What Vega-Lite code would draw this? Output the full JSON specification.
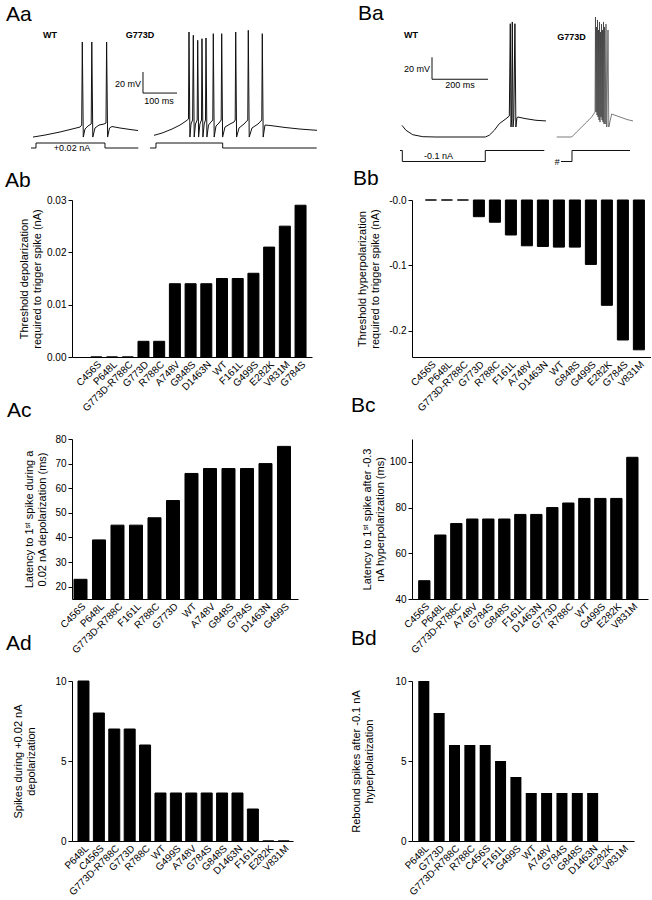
{
"$schema": "https://vega.github.io/schema/vega-lite/v6.json",
"padding": {"left": 5, "top": 3, "right": 0, "bottom": 5},
"bounds": "flush",
"columns": 2,
"spacing": {"row": 82, "column": 100},
"config": {
  "view": {"stroke": null},
  "font": "Liberation Sans",
  "title": {"anchor": "start", "frame": "group", "fontSize": 21, "fontWeight": "normal", "font": "Liberation Sans", "color": "#000", "baseline": "alphabetic"},
  "axis": {"labelFont": "Liberation Sans", "titleFont": "Liberation Sans", "labelFontSize": 10, "titleFontSize": 11, "titleFontWeight": "normal", "labelColor": "#000", "titleColor": "#000", "domainColor": "#000", "tickColor": "#000", "grid": false, "tickSize": 4, "titleLineHeight": 13},
  "text": {"font": "Liberation Sans", "color": "#000"}
},
"datasets": {
  "aa_wt_mV": [{"t":5.9,"mV":-69.8},{"t":41.2,"mV":-67.9},{"t":85.3,"mV":-65},{"t":120.6,"mV":-62.2},{"t":144.1,"mV":-60.3},{"t":149.1,"mV":-58.4},{"t":150.9,"mV":20.5},{"t":153.8,"mV":-69.8},{"t":158.8,"mV":-62.2},{"t":167.6,"mV":-59.3},{"t":177.1,"mV":-57.4},{"t":178.8,"mV":20.5},{"t":181.8,"mV":-69.8},{"t":188.2,"mV":-61.2},{"t":200,"mV":-58.4},{"t":214.7,"mV":-57.4},{"t":220.6,"mV":-56.5},{"t":222.4,"mV":20.5},{"t":225.3,"mV":-69.8},{"t":230.9,"mV":-61.2},{"t":238.2,"mV":-59.8},{"t":261.8,"mV":-61.2},{"t":291.2,"mV":-62.6},{"t":314.7,"mV":-63.6}],
  "aa_wt_nA": [{"t":0,"nA":0},{"t":14.7,"nA":0},{"t":14.7,"nA":0.02},{"t":217.6,"nA":0.02},{"t":217.6,"nA":0},{"t":315.6,"nA":0}],
  "aa_g_mV": [{"t":11.8,"mV":-68.2},{"t":35.3,"mV":-66},{"t":64.7,"mV":-62.2},{"t":88.2,"mV":-58.4},{"t":105.9,"mV":-54.6},{"t":113.2,"mV":-52.7},
    {"t":114.7,"mV":30},{"t":117.4,"mV":-69.8},{"t":120.6,"mV":-57.4},{"t":125.3,"mV":-53.6},
    {"t":127.4,"mV":26.9},{"t":130,"mV":-69.8},{"t":133.8,"mV":-57.4},{"t":138.8,"mV":-53.6},
    {"t":140.3,"mV":22.1},{"t":142.9,"mV":-69.8},{"t":146.8,"mV":-57.4},{"t":151.5,"mV":-53.6},
    {"t":152.9,"mV":23.6},{"t":155.6,"mV":-69.8},{"t":159.4,"mV":-57.4},{"t":163.2,"mV":-53.6},
    {"t":164.7,"mV":24.3},{"t":167.4,"mV":-69.8},{"t":172.1,"mV":-58.4},{"t":179.4,"mV":-55.5},{"t":184.7,"mV":-53.6},
    {"t":186.2,"mV":28.4},{"t":188.8,"mV":-69.8},{"t":194.1,"mV":-59.3},{"t":202.9,"mV":-56.5},{"t":209.4,"mV":-53.6},
    {"t":210.9,"mV":28.4},{"t":213.5,"mV":-69.8},{"t":220.6,"mV":-60.3},{"t":235.3,"mV":-57.4},{"t":247.1,"mV":-55.5},{"t":250.6,"mV":-53.6},
    {"t":252.1,"mV":30},{"t":254.7,"mV":-69.8},{"t":261.8,"mV":-61.2},{"t":276.5,"mV":-57.4},{"t":287.6,"mV":-53.6},
    {"t":289.1,"mV":31.6},{"t":291.8,"mV":-69.8},{"t":300,"mV":-61.2},{"t":317.6,"mV":-57.4},{"t":328.8,"mV":-53.6},
    {"t":330.3,"mV":28.4},{"t":332.9,"mV":-69.8},{"t":338.2,"mV":-58.4},{"t":352.9,"mV":-58.8},{"t":397.1,"mV":-60.7},{"t":441.2,"mV":-62.2},{"t":491.2,"mV":-63.4}],
  "aa_g_nA": [{"t":0,"nA":0},{"t":17.6,"nA":0},{"t":17.6,"nA":0.02},{"t":213.8,"nA":0.02},{"t":213.8,"nA":0},{"t":490.3,"nA":0}],
  "aa_scalebar": [{"t":-20.6,"t2":-20.6,"mV":-28,"mV2":-8},{"t":-20.6,"t2":79.4,"mV":-28,"mV2":-28}],
  "aa_wt_names": [{"label":"WT","t":55.9,"mV":27.2}],
  "aa_g_names": [{"label":"G773D","t":-29.4,"mV":27.2}],
  "aa_g_scale": [{"label":"20 mV","t":-64.7,"mV":-19.4},{"label":"100 ms","t":26.5,"mV":-35.5}],
  "aa_wt_stim": [{"label":"+0.02 nA","t":120.6,"nA":0}],
  "ba_wt_mV": [{"t":7.1,"mV":-63.5},{"t":21.4,"mV":-68},{"t":45.4,"mV":-72},{"t":81.1,"mV":-73.8},{"t":128.6,"mV":-74.1},{"t":304.6,"mV":-74.1},{"t":318.9,"mV":-72.5},{"t":336.8,"mV":-68},{"t":354.6,"mV":-62},{"t":378.6,"mV":-57.5},{"t":390.4,"mV":-55},
    {"t":393.9,"mV":28.9},{"t":396.4,"mV":-65},{"t":398.6,"mV":-58.6},
    {"t":401.1,"mV":30.5},{"t":403.6,"mV":-65},{"t":406.4,"mV":-57.7},
    {"t":410.4,"mV":28.9},{"t":413.9,"mV":-65},{"t":417.5,"mV":-56.8},
    {"t":420.4,"mV":-55.9},{"t":450,"mV":-57.5},{"t":485.7,"mV":-58.9},{"t":521.4,"mV":-59.5}],
  "ba_wt_nA": [{"t":0,"nA":0},{"t":8.3,"nA":0},{"t":8.3,"nA":-0.1},{"t":304.6,"nA":-0.1},{"t":304.6,"nA":0},{"t":515.4,"nA":0}],
  "ba_g_mV": [{"t":6.1,"mV":-74.1},{"t":59.6,"mV":-74.1},{"t":77.5,"mV":-69.5},{"t":95.4,"mV":-65},{"t":113.2,"mV":-60.5},{"t":131.1,"mV":-55.9},{"t":142.9,"mV":-51.4},
    {"t":144.6,"mV":35},{"t":146.4,"mV":-51.4},{"t":148.2,"mV":25.9},{"t":150,"mV":-54.1},{"t":151.8,"mV":32.3},{"t":153.6,"mV":-55.9},{"t":155.4,"mV":23.2},{"t":157.1,"mV":-58.6},{"t":158.9,"mV":30.5},{"t":160.7,"mV":-60.5},{"t":162.5,"mV":21.4},{"t":164.3,"mV":-55.9},{"t":166.1,"mV":28.6},{"t":167.9,"mV":-58.6},{"t":169.6,"mV":23.2},{"t":171.4,"mV":-60.5},{"t":173.2,"mV":30.5},{"t":175,"mV":-62.3},{"t":176.8,"mV":25.9},{"t":179.3,"mV":-62.3},{"t":182.1,"mV":28.6},{"t":185,"mV":-65},{"t":189.3,"mV":23.2},{"t":192.1,"mV":-65},
    {"t":202.5,"mV":-53.2},{"t":232.1,"mV":-55.9},{"t":257.1,"mV":-58.2},{"t":278.6,"mV":-59.5}],
  "ba_g_nA": [{"t":21.4,"nA":-0.1},{"t":60.7,"nA":-0.1},{"t":60.7,"nA":0},{"t":267.9,"nA":0}],
  "ba_scalebar": [{"t":114.3,"t2":114.3,"mV":-21.6,"mV2":-1.6},{"t":114.3,"t2":314.3,"mV":-21.6,"mV2":-21.6}],
  "ba_wt_names": [{"label":"WT","t":39.3,"mV":18.4}],
  "ba_g_names": [{"label":"G773D","t":58.9,"mV":16.8}],
  "ba_wt_scale": [{"label":"20 mV","t":60.7,"mV":-12},{"label":"200 ms","t":214.3,"mV":-26.6}],
  "ba_wt_stim": [{"label":"-0.1 nA","t":137.5,"nA":-0.053}],
  "ba_g_stim": [{"label":"#","t":7.1,"nA":-0.1045}]
},
"concat": [
  {
    "width": 240, "height": 101,
    "title": {"text": "Aa", "dx": -66, "offset": -8.4},
    "resolve": {"scale": {"x": "independent", "y": "independent"}},
    "layer": [
      {"data": {"name": "aa_wt_mV"}, "mark": {"type": "line", "color": "#111", "strokeWidth": 1},
       "encoding": {"x": {"field": "t", "type": "quantitative", "scale": {"domain": [120.6, 826.5], "nice": false, "zero": false}, "axis": null},
                    "y": {"field": "mV", "type": "quantitative", "scale": {"domain": [-51.7, 44.25], "nice": false, "zero": false}, "axis": null}}},
      {"data": {"name": "aa_g_mV"}, "mark": {"type": "line", "color": "#111", "strokeWidth": 1},
       "encoding": {"x": {"field": "t", "type": "quantitative", "scale": {"domain": [-229.4, 476.5], "nice": false, "zero": false}, "axis": null},
                    "y": {"field": "mV", "type": "quantitative", "scale": {"domain": [-51.7, 44.25], "nice": false, "zero": false}, "axis": null}}},
      {"data": {"name": "aa_wt_nA"}, "mark": {"type": "line", "color": "#111", "strokeWidth": 1},
       "encoding": {"x": {"field": "t", "type": "quantitative", "scale": {"domain": [120.6, 826.5], "nice": false, "zero": false}, "axis": null},
                    "y": {"field": "nA", "type": "quantitative", "scale": {"domain": [0.12, 0.524], "nice": false, "zero": false}, "axis": null}}},
      {"data": {"name": "aa_g_nA"}, "mark": {"type": "line", "color": "#111", "strokeWidth": 1},
       "encoding": {"x": {"field": "t", "type": "quantitative", "scale": {"domain": [-229.4, 476.5], "nice": false, "zero": false}, "axis": null},
                    "y": {"field": "nA", "type": "quantitative", "scale": {"domain": [0.12, 0.524], "nice": false, "zero": false}, "axis": null}}},
      {"data": {"name": "aa_scalebar"}, "mark": {"type": "rule", "color": "#111", "strokeWidth": 1},
       "encoding": {"x": {"field": "t", "type": "quantitative", "scale": {"domain": [-229.4, 476.5], "nice": false, "zero": false}, "axis": null}, "x2": {"field": "t2"},
                    "y": {"field": "mV", "type": "quantitative", "scale": {"domain": [-51.7, 44.25], "nice": false, "zero": false}, "axis": null}, "y2": {"field": "mV2"}}},
      {"data": {"name": "aa_wt_names"}, "mark": {"type": "text", "fontWeight": "bold", "fontSize": 9},
       "encoding": {"x": {"field": "t", "type": "quantitative", "scale": {"domain": [120.6, 826.5], "nice": false, "zero": false}, "axis": null},
                    "y": {"field": "mV", "type": "quantitative", "scale": {"domain": [-51.7, 44.25], "nice": false, "zero": false}, "axis": null}, "text": {"field": "label"}}},
      {"data": {"name": "aa_g_names"}, "mark": {"type": "text", "fontWeight": "bold", "fontSize": 9},
       "encoding": {"x": {"field": "t", "type": "quantitative", "scale": {"domain": [-229.4, 476.5], "nice": false, "zero": false}, "axis": null},
                    "y": {"field": "mV", "type": "quantitative", "scale": {"domain": [-51.7, 44.25], "nice": false, "zero": false}, "axis": null}, "text": {"field": "label"}}},
      {"data": {"name": "aa_g_scale"}, "mark": {"type": "text", "fontSize": 9},
       "encoding": {"x": {"field": "t", "type": "quantitative", "scale": {"domain": [-229.4, 476.5], "nice": false, "zero": false}, "axis": null},
                    "y": {"field": "mV", "type": "quantitative", "scale": {"domain": [-51.7, 44.25], "nice": false, "zero": false}, "axis": null}, "text": {"field": "label"}}},
      {"data": {"name": "aa_wt_stim"}, "mark": {"type": "text", "fontSize": 9},
       "encoding": {"x": {"field": "t", "type": "quantitative", "scale": {"domain": [120.6, 826.5], "nice": false, "zero": false}, "axis": null},
                    "y": {"field": "nA", "type": "quantitative", "scale": {"domain": [0.12, 0.524], "nice": false, "zero": false}, "axis": null}, "text": {"field": "label"}}}
    ]
  },
  {
    "width": 239, "height": 101,
    "title": {"text": "Ba", "dx": -54, "offset": -8.4},
    "resolve": {"scale": {"x": "independent", "y": "independent"}},
    "layer": [
      {"data": {"name": "ba_wt_mV"}, "mark": {"type": "line", "color": "#111", "strokeWidth": 1},
       "encoding": {"x": {"field": "t", "type": "quantitative", "scale": {"domain": [42.86, 896.4], "nice": false, "zero": false}, "axis": null},
                    "y": {"field": "mV", "type": "quantitative", "scale": {"domain": [-56.82, 35], "nice": false, "zero": false}, "axis": null}}},
      {"data": {"name": "ba_g_mV"}, "mark": {"type": "line", "color": "#222", "strokeWidth": 0.6},
       "encoding": {"x": {"field": "t", "type": "quantitative", "scale": {"domain": [-510.7, 342.9], "nice": false, "zero": false}, "axis": null},
                    "y": {"field": "mV", "type": "quantitative", "scale": {"domain": [-56.82, 35], "nice": false, "zero": false}, "axis": null}}},
      {"data": {"name": "ba_wt_nA"}, "mark": {"type": "line", "color": "#111", "strokeWidth": 1},
       "encoding": {"x": {"field": "t", "type": "quantitative", "scale": {"domain": [42.86, 896.4], "nice": false, "zero": false}, "axis": null},
                    "y": {"field": "nA", "type": "quantitative", "scale": {"domain": [0.2954, 1.2135], "nice": false, "zero": false}, "axis": null}}},
      {"data": {"name": "ba_g_nA"}, "mark": {"type": "line", "color": "#111", "strokeWidth": 1},
       "encoding": {"x": {"field": "t", "type": "quantitative", "scale": {"domain": [-510.7, 342.9], "nice": false, "zero": false}, "axis": null},
                    "y": {"field": "nA", "type": "quantitative", "scale": {"domain": [0.2954, 1.2135], "nice": false, "zero": false}, "axis": null}}},
      {"data": {"name": "ba_scalebar"}, "mark": {"type": "rule", "color": "#111", "strokeWidth": 1},
       "encoding": {"x": {"field": "t", "type": "quantitative", "scale": {"domain": [42.86, 896.4], "nice": false, "zero": false}, "axis": null}, "x2": {"field": "t2"},
                    "y": {"field": "mV", "type": "quantitative", "scale": {"domain": [-56.82, 35], "nice": false, "zero": false}, "axis": null}, "y2": {"field": "mV2"}}},
      {"data": {"name": "ba_wt_names"}, "mark": {"type": "text", "fontWeight": "bold", "fontSize": 9},
       "encoding": {"x": {"field": "t", "type": "quantitative", "scale": {"domain": [42.86, 896.4], "nice": false, "zero": false}, "axis": null},
                    "y": {"field": "mV", "type": "quantitative", "scale": {"domain": [-56.82, 35], "nice": false, "zero": false}, "axis": null}, "text": {"field": "label"}}},
      {"data": {"name": "ba_g_names"}, "mark": {"type": "text", "fontWeight": "bold", "fontSize": 9},
       "encoding": {"x": {"field": "t", "type": "quantitative", "scale": {"domain": [-510.7, 342.9], "nice": false, "zero": false}, "axis": null},
                    "y": {"field": "mV", "type": "quantitative", "scale": {"domain": [-56.82, 35], "nice": false, "zero": false}, "axis": null}, "text": {"field": "label"}}},
      {"data": {"name": "ba_wt_scale"}, "mark": {"type": "text", "fontSize": 9},
       "encoding": {"x": {"field": "t", "type": "quantitative", "scale": {"domain": [42.86, 896.4], "nice": false, "zero": false}, "axis": null},
                    "y": {"field": "mV", "type": "quantitative", "scale": {"domain": [-56.82, 35], "nice": false, "zero": false}, "axis": null}, "text": {"field": "label"}}},
      {"data": {"name": "ba_wt_stim"}, "mark": {"type": "text", "fontSize": 9},
       "encoding": {"x": {"field": "t", "type": "quantitative", "scale": {"domain": [42.86, 896.4], "nice": false, "zero": false}, "axis": null},
                    "y": {"field": "nA", "type": "quantitative", "scale": {"domain": [0.2954, 1.2135], "nice": false, "zero": false}, "axis": null}, "text": {"field": "label"}}},
      {"data": {"name": "ba_g_stim"}, "mark": {"type": "text", "fontSize": 9, "fontStyle": "italic"},
       "encoding": {"x": {"field": "t", "type": "quantitative", "scale": {"domain": [-510.7, 342.9], "nice": false, "zero": false}, "axis": null},
                    "y": {"field": "nA", "type": "quantitative", "scale": {"domain": [0.2954, 1.2135], "nice": false, "zero": false}, "axis": null}, "text": {"field": "label"}}}
    ]
  },
  {
    "width": 240, "height": 157,
    "title": {"text": "Ab", "dx": -67, "offset": 4.1},
    "data": {"values": [{"mutant":"C456S","nA":0},{"mutant":"P648L","nA":0},{"mutant":"G773D-R788C","nA":0},{"mutant":"G773D","nA":0.003},{"mutant":"R788C","nA":0.003},{"mutant":"A748V","nA":0.014},{"mutant":"G848S","nA":0.014},{"mutant":"D1463N","nA":0.014},{"mutant":"WT","nA":0.015},{"mutant":"F161L","nA":0.015},{"mutant":"G499S","nA":0.016},{"mutant":"E282K","nA":0.021},{"mutant":"V831M","nA":0.025},{"mutant":"G784S","nA":0.029}]},
    "mark": {"type": "bar", "color": "#000", "stroke": "#000", "strokeWidth": 1},
    "encoding": {
      "x": {"field": "mutant", "type": "nominal", "sort": null, "scale": {"paddingInner": 0.3, "paddingOuter": 0.79, "align": 0.76}, "axis": {"title": null, "labelAngle": -45, "ticks": false}},
      "y": {"field": "nA", "type": "quantitative", "scale": {"domain": [0, 0.03], "nice": false, "zero": false}, "axis": {"values": [0, 0.01, 0.02, 0.03], "format": ".2f", "title": ["Threshold depolarization", "required to trigger spike (nA)"], "titlePadding": 4}}
    }
  },
  {
    "width": 239, "height": 157,
    "title": {"text": "Bb", "dx": -59, "offset": 5.6},
    "data": {"values": [{"mutant":"C456S","nA":0},{"mutant":"P648L","nA":0},{"mutant":"G773D-R788C","nA":0},{"mutant":"G773D","nA":-0.0255},{"mutant":"R788C","nA":-0.034},{"mutant":"F161L","nA":-0.0535},{"mutant":"A748V","nA":-0.07},{"mutant":"D1463N","nA":-0.071},{"mutant":"WT","nA":-0.072},{"mutant":"G848S","nA":-0.072},{"mutant":"G499S","nA":-0.0985},{"mutant":"E282K","nA":-0.161},{"mutant":"G784S","nA":-0.214},{"mutant":"V831M","nA":-0.229}]},
    "mark": {"type": "bar", "color": "#000", "stroke": "#000", "strokeWidth": 1},
    "encoding": {
      "x": {"field": "mutant", "type": "nominal", "sort": null, "scale": {"paddingInner": 0.31, "paddingOuter": 0.625, "align": 0.67}, "axis": {"title": null, "labelAngle": -45, "ticks": false}},
      "y": {"field": "nA", "type": "quantitative", "scale": {"domain": [-0.24, 0], "nice": false, "zero": true}, "axis": {"values": [0, -0.1, -0.2], "labelExpr": "'-' + format(abs(datum.value), '.1f')", "title": ["Threshold hyperpolarization", "required to trigger spike (nA)"], "titlePadding": 8}}
    }
  },
  {
    "width": 226, "height": 160,
    "title": {"text": "Ac", "dx": -65, "offset": 12.6},
    "data": {"values": [{"mutant":"C456S","ms":23},{"mutant":"P648L","ms":39},{"mutant":"G773D-R788C","ms":45},{"mutant":"F161L","ms":45},{"mutant":"R788C","ms":48},{"mutant":"G773D","ms":55},{"mutant":"WT","ms":66},{"mutant":"A748V","ms":68},{"mutant":"G848S","ms":68},{"mutant":"G784S","ms":68},{"mutant":"D1463N","ms":70},{"mutant":"G499S","ms":77}]},
    "mark": {"type": "bar", "color": "#000", "stroke": "#000", "strokeWidth": 1},
    "encoding": {
      "x": {"field": "mutant", "type": "nominal", "sort": null, "scale": {"paddingInner": 0.297, "paddingOuter": 0.257, "align": 0.21}, "axis": {"title": null, "labelAngle": -45, "ticks": false}},
      "y": {"field": "ms", "type": "quantitative", "scale": {"domain": [15, 80], "nice": false, "zero": false}, "axis": {"values": [20, 30, 40, 50, 60, 70, 80], "title": ["Latency to 1ˢᵗ spike during a", "0.02 nA depolarization (ms)"], "titlePadding": 7}},
      "y2": {"datum": 15}
    }
  },
  {
    "width": 236, "height": 160,
    "title": {"text": "Bc", "dx": -61, "offset": 22.6},
    "data": {"values": [{"mutant":"C456S","ms":48},{"mutant":"P648L","ms":68},{"mutant":"G773D-R788C","ms":73},{"mutant":"A748V","ms":75},{"mutant":"G784S","ms":75},{"mutant":"G848S","ms":75},{"mutant":"F161L","ms":77},{"mutant":"D1463N","ms":77},{"mutant":"G773D","ms":80},{"mutant":"R788C","ms":82},{"mutant":"WT","ms":84},{"mutant":"G499S","ms":84},{"mutant":"E282K","ms":84},{"mutant":"V831M","ms":102}]},
    "mark": {"type": "bar", "color": "#000", "stroke": "#000", "strokeWidth": 1},
    "encoding": {
      "x": {"field": "mutant", "type": "nominal", "sort": null, "scale": {"paddingInner": 0.294, "paddingOuter": 0.52, "align": 0.4}, "axis": {"title": null, "labelAngle": -45, "ticks": false}},
      "y": {"field": "ms", "type": "quantitative", "scale": {"domain": [40, 110], "nice": false, "zero": false}, "axis": {"values": [40, 60, 80, 100], "title": ["Latency to 1ˢᵗ spike after -0.3", "nA hyperpolarization (ms)"], "titlePadding": 4}},
      "y2": {"datum": 40}
    }
  },
  {
    "width": 221, "height": 160,
    "title": {"text": "Ad", "dx": -66, "offset": 21.6},
    "data": {"values": [{"mutant":"P648L","spikes":10},{"mutant":"C456S","spikes":8},{"mutant":"G773D-R788C","spikes":7},{"mutant":"G773D","spikes":7},{"mutant":"R788C","spikes":6},{"mutant":"WT","spikes":3},{"mutant":"G499S","spikes":3},{"mutant":"A748V","spikes":3},{"mutant":"G784S","spikes":3},{"mutant":"G848S","spikes":3},{"mutant":"D1463N","spikes":3},{"mutant":"F161L","spikes":2},{"mutant":"E282K","spikes":0},{"mutant":"V831M","spikes":0}]},
    "mark": {"type": "bar", "color": "#000", "stroke": "#000", "strokeWidth": 1},
    "encoding": {
      "x": {"field": "mutant", "type": "nominal", "sort": null, "scale": {"paddingInner": 0.286, "paddingOuter": 0.318, "align": 0.61}, "axis": {"title": null, "labelAngle": -45, "ticks": false}},
      "y": {"field": "spikes", "type": "quantitative", "scale": {"domain": [0, 10], "nice": false, "zero": false}, "axis": {"values": [0, 5, 10], "title": ["Spikes during +0.02 nA", "depolarization"], "titlePadding": 18}}
    }
  },
  {
    "width": 222, "height": 160,
    "title": {"text": "Bd", "dx": -61, "offset": 26.6},
    "data": {"values": [{"mutant":"P648L","spikes":10},{"mutant":"G773D","spikes":8},{"mutant":"G773D-R788C","spikes":6},{"mutant":"R788C","spikes":6},{"mutant":"C456S","spikes":6},{"mutant":"F161L","spikes":5},{"mutant":"G499S","spikes":4},{"mutant":"WT","spikes":3},{"mutant":"A748V","spikes":3},{"mutant":"G784S","spikes":3},{"mutant":"G848S","spikes":3},{"mutant":"D1463N","spikes":3},{"mutant":"E282K","spikes":0},{"mutant":"V831M","spikes":0}]},
    "mark": {"type": "bar", "color": "#000"},
    "encoding": {
      "x": {"field": "mutant", "type": "nominal", "sort": null, "scale": {"paddingInner": 0.283, "paddingOuter": 0.373, "align": 0.55}, "axis": {"title": null, "labelAngle": -45, "ticks": false}},
      "y": {"field": "spikes", "type": "quantitative", "scale": {"domain": [0, 10], "nice": false, "zero": false}, "axis": {"values": [0, 5, 10], "title": ["Rebound spikes after -0.1 nA", "hyperpolarization"], "titlePadding": 20}}
    }
  }
]
}
